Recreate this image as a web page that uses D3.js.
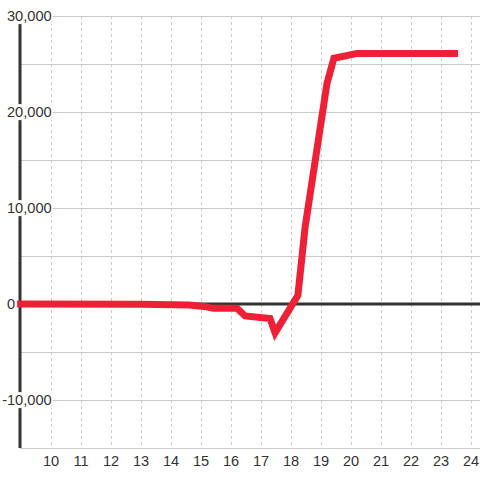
<!DOCTYPE html>
<html>
<head>
<meta charset="utf-8">
<script src="https://cdn.jsdelivr.net/npm/d3@7/dist/d3.min.js"></script>
<style>
  html, body { margin: 0; padding: 0; background: #fff; }
  text { font-family: "Liberation Sans", Arial, sans-serif; }
</style>
</head>
<body>
<div id="chart"></div>
<script>
// 数据：横坐标（小时）与数值
var hours = [8.87, 13.0, 14.6, 15.1, 15.4, 16.2, 16.47, 17.3, 17.47, 18.23, 18.47, 19.2, 19.43, 20.2, 23.57]
var values = [0, -30, -100, -250, -450, -450, -1250, -1500, -3000, 900, 8000, 23000, 25600, 26100, 26100]
// 刻度
var xTicks = [10, 11, 12, 13, 14, 15, 16, 17, 18, 19, 20, 21, 22, 23, 24]
var yGrid = [-15000, -10000, -5000, 0, 5000, 10000, 15000, 20000, 25000, 30000]
var yLabels = [-10000, 0, 10000, 20000, 30000]

// 默认配置项
var config = {
  width: 480,
  height: 480,
  left: 20,
  right: 480,
  top: 16,
  bottom: 448,
  xMax: 24.3,
  yDomain: [-15000, 30000],
  labelX: 7,
  lineColor: '#ee2036',
  axisColor: '#333',
  gridColor: '#cccccc',
  fontSize: 14.6
}

var svg = d3.select('#chart').append('svg')
  .attr('width', config.width)
  .attr('height', config.height)

var x = d3.scaleLinear()
  .domain([8.9667, config.xMax])
  .range([config.left, config.right])
var y = d3.scaleLinear()
  .domain(config.yDomain)
  .range([config.bottom, config.top])

// 横向网格线
svg.append('g').selectAll('line')
  .data(yGrid)
  .enter()
  .append('line')
  .attr('x1', config.left)
  .attr('x2', config.right)
  .attr('y1', function(d) { return y(d) + 0.5 })
  .attr('y2', function(d) { return y(d) + 0.5 })
  .attr('stroke', config.gridColor)
  .attr('stroke-width', 1)

// 纵向虚线网格
svg.append('g').selectAll('line')
  .data(xTicks)
  .enter()
  .append('line')
  .attr('x1', function(d) { return Math.round(x(d)) + 0.5 })
  .attr('x2', function(d) { return Math.round(x(d)) + 0.5 })
  .attr('y1', config.top)
  .attr('y2', config.bottom)
  .attr('stroke', config.gridColor)
  .attr('stroke-width', 1)
  .attr('stroke-dasharray', '3,3')

// 纵轴
svg.append('line')
  .attr('x1', config.left)
  .attr('x2', config.left)
  .attr('y1', config.top)
  .attr('y2', config.bottom)
  .attr('stroke', config.axisColor)
  .attr('stroke-width', 3)

// 纵轴标签（左对齐，负号悬挂在左侧，带白色底）
var fmt = d3.format(',')
var yl = svg.append('g').selectAll('g')
  .data(yLabels)
  .enter()
  .append('g')
yl.append('rect')
yl.append('text')
  .attr('y', function(d) { return y(d) })
  .attr('dy', '0.35em')
  .attr('font-size', config.fontSize)
  .attr('fill', config.axisColor)
  .text(function(d) { return fmt(d).replace('−', '-') })
yl.each(function(d) {
  var g = d3.select(this)
  var t = g.select('text')
  var shift = 0
  if (d < 0) {
    // 负号宽度
    shift = t.node().getSubStringLength(0, 1)
  }
  t.attr('x', config.labelX - shift)
  var b = t.node().getBBox()
  g.select('rect')
    .attr('x', b.x - 1)
    .attr('y', b.y)
    .attr('width', b.width + 2)
    .attr('height', b.height)
    .attr('fill', '#fff')
})

// 零线
svg.append('line')
  .attr('x1', config.left)
  .attr('x2', config.right)
  .attr('y1', y(0))
  .attr('y2', y(0))
  .attr('stroke', config.axisColor)
  .attr('stroke-width', 3)

// 折线
var line = d3.line()
  .x(function(d, i) { return x(hours[i]) })
  .y(function(d) { return y(d) })

svg.append('path')
  .datum(values)
  .attr('d', line)
  .attr('fill', 'none')
  .attr('stroke', config.lineColor)
  .attr('stroke-width', 7)
  .attr('stroke-linejoin', 'miter')

// 横轴标签
svg.append('g').selectAll('text')
  .data(xTicks)
  .enter()
  .append('text')
  .attr('x', function(d) { return x(d) })
  .attr('y', 466)
  .attr('text-anchor', 'middle')
  .attr('font-size', config.fontSize)
  .attr('fill', config.axisColor)
  .text(function(d) { return d })
</script>
</body>
</html>
